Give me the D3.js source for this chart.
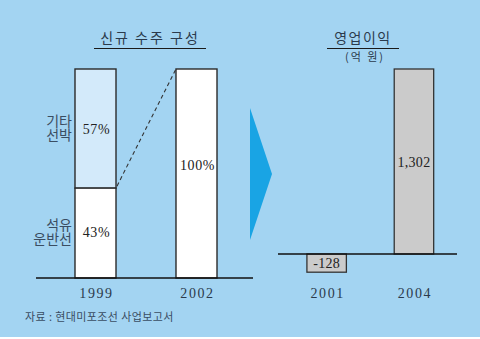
<!DOCTYPE html>
<html>
<head>
<meta charset="utf-8">
<script src="https://cdn.jsdelivr.net/npm/d3@7"></script>
<style>
html,body{margin:0;padding:0;background:#a3d4f2;}
svg{display:block;}
</style>
</head>
<body>
<svg id="chart" width="480" height="339"></svg>
<script>
// ---- data ----
const orderYears = ["1999", "2002"];
const tankerShare = [43, 100];      // 석유 운반선 (2002: 100%)
const otherShare = [57, 0];         // 기타 선박
const orderLabelsLower = ["43%", "100%"];
const orderLabelsUpper = ["57%", ""];
const segmentNames = [["석유", "운반선"], ["기타", "선박"]];

const profitYears = ["2001", "2004"];
const profitValues = [-128, 1302];
const profitLabels = ["-128", "1,302"];

const leftTitle = "신규 수주 구성";
const rightTitle = "영업이익";
const rightUnit = "(억 원)";
const sourceText = "자료 : 현대미포조선 사업보고서";

// ---- setup ----
const svg = d3.select("#chart");
svg.append("rect").attr("width", 480).attr("height", 337).attr("fill", "#a3d4f2");
svg.append("rect").attr("y", 337).attr("width", 480).attr("height", 2).attr("fill", "#ffffff");

const kfont = "'Noto Sans CJK KR', 'Noto Sans', sans-serif";
const nfont = "'Liberation Serif', serif";
const textCol = "#2b3a4c";
const strokeCol = "#2a2a2a";

// ---- left chart ----
const xL = d3.scaleBand().domain(orderYears).range([45, 247]).paddingInner(0.594).paddingOuter(0.297);
const yL = d3.scaleLinear().domain([0, 100]).range([278, 69]);

const left = svg.append("g");
// upper segment (기타 선박)
left.selectAll("rect.upper").data(orderYears).join("rect")
  .attr("class", "upper")
  .attr("x", d => xL(d))
  .attr("width", xL.bandwidth())
  .attr("y", (d, i) => yL(tankerShare[i] + otherShare[i]))
  .attr("height", (d, i) => yL(tankerShare[i]) - yL(tankerShare[i] + otherShare[i]))
  .attr("fill", "#d3eafa")
  .attr("stroke", strokeCol).attr("stroke-width", 1.4);
// lower segment
left.selectAll("rect.lower").data(orderYears).join("rect")
  .attr("class", "lower")
  .attr("x", d => xL(d))
  .attr("width", xL.bandwidth())
  .attr("y", (d, i) => yL(tankerShare[i]))
  .attr("height", (d, i) => yL(0) - yL(tankerShare[i]))
  .attr("fill", "#ffffff")
  .attr("stroke", strokeCol).attr("stroke-width", 1.4);

// dashed connector
left.append("line")
  .attr("x1", xL(orderYears[0]) + xL.bandwidth() + 1)
  .attr("y1", yL(tankerShare[0]) - 2)
  .attr("x2", xL(orderYears[1]))
  .attr("y2", yL(tankerShare[1]))
  .attr("stroke", "#333").attr("stroke-width", 1.1).attr("stroke-dasharray", "4,3");

// values
left.selectAll("text.lowerv").data(orderYears).join("text")
  .attr("x", d => xL(d) + xL.bandwidth() / 2 + 1)
  .attr("y", (d, i) => (yL(0) + yL(tankerShare[i])) / 2 + (i === 0 ? 4 : -4))
  .attr("text-anchor", "middle")
  .attr("font-family", nfont).attr("font-size", 14).attr("letter-spacing", 0.6)
  .attr("fill", "#222")
  .text((d, i) => orderLabelsLower[i]);
left.selectAll("text.upperv").data(orderYears).join("text")
  .attr("x", d => xL(d) + xL.bandwidth() / 2 + 1)
  .attr("y", (d, i) => (yL(tankerShare[i]) + yL(tankerShare[i] + otherShare[i])) / 2 + 5)
  .attr("text-anchor", "middle")
  .attr("font-family", nfont).attr("font-size", 14).attr("letter-spacing", 0.6)
  .attr("fill", "#222")
  .text((d, i) => orderLabelsUpper[i]);

// segment names (one text per line)
const segMid = [ (yL(0) + yL(tankerShare[0])) / 2, (yL(tankerShare[0]) + yL(100)) / 2 ];
segmentNames.forEach((lines, s) => {
  lines.forEach((ln, k) => {
    left.append("text")
      .attr("x", 72)
      .attr("y", segMid[s] + (k === 0 ? -3 : 11))
      .attr("text-anchor", "end")
      .attr("font-family", kfont).attr("font-size", 14)
      .attr("fill", "#3a4d62")
      .text(ln);
  });
});

// baseline
left.append("line").attr("x1", 36).attr("x2", 253).attr("y1", yL(0)).attr("y2", yL(0))
  .attr("stroke", "#111").attr("stroke-width", 1.3);

// axis labels
const axL = d3.axisBottom(xL).tickSize(0).tickPadding(10);
const gAxL = left.append("g").attr("transform", `translate(0,${yL(0)})`).call(axL);
gAxL.select(".domain").remove();
gAxL.selectAll("text").attr("font-family", nfont).attr("font-size", 14)
  .attr("letter-spacing", 1.6).attr("fill", textCol).attr("dx", 1);

// title
left.append("text").attr("x", 150).attr("y", 43).attr("text-anchor", "middle")
  .attr("font-family", kfont).attr("font-size", 14).attr("letter-spacing", 2)
  .attr("fill", textCol).text(leftTitle);
left.append("line").attr("x1", 94).attr("x2", 206).attr("y1", 48.5).attr("y2", 48.5)
  .attr("stroke", "#1a1a1a").attr("stroke-width", 1.2);

// ---- arrow ----
svg.append("path")
  .attr("d", d3.line()([[250, 108], [272, 174], [250, 240]]) + "Z")
  .attr("fill", "#19a4e4");

// ---- right chart ----
const xR = d3.scaleBand().domain(profitYears).range([283, 457.6]).paddingInner(0.548).paddingOuter(0.274);
const yR = d3.scaleLinear().domain([0, 1302]).range([254, 69]);

const right = svg.append("g");
right.selectAll("rect.bar").data(profitYears).join("rect")
  .attr("x", d => xR(d))
  .attr("width", xR.bandwidth())
  .attr("y", (d, i) => yR(Math.max(0, profitValues[i])))
  .attr("height", (d, i) => Math.abs(yR(profitValues[i]) - yR(0)))
  .attr("fill", "#cbcbcb")
  .attr("stroke", "#333").attr("stroke-width", 1.3);

right.selectAll("text.val").data(profitYears).join("text")
  .attr("x", d => xR(d) + xR.bandwidth() / 2)
  .attr("y", (d, i) => profitValues[i] < 0 ? yR(profitValues[i]) - 4 : yR(0) - 87)
  .attr("text-anchor", "middle")
  .attr("font-family", nfont).attr("font-size", 14).attr("letter-spacing", 0.3)
  .attr("fill", "#222")
  .text((d, i) => profitLabels[i]);

right.append("line").attr("x1", 278).attr("x2", 457).attr("y1", yR(0)).attr("y2", yR(0))
  .attr("stroke", "#111").attr("stroke-width", 1.3);

const axR = d3.axisBottom(xR).tickSize(0).tickPadding(34);
const gAxR = right.append("g").attr("transform", `translate(0,${yR(0)})`).call(axR);
gAxR.select(".domain").remove();
gAxR.selectAll("text").attr("font-family", nfont).attr("font-size", 14)
  .attr("letter-spacing", 1.6).attr("fill", textCol).attr("dx", 1);

right.append("text").attr("x", 363).attr("y", 43).attr("text-anchor", "middle")
  .attr("font-family", kfont).attr("font-size", 14).attr("letter-spacing", 1.5)
  .attr("fill", textCol).text(rightTitle);
right.append("line").attr("x1", 327).attr("x2", 399).attr("y1", 48.5).attr("y2", 48.5)
  .attr("stroke", "#1a1a1a").attr("stroke-width", 1.2);
right.append("text").attr("x", 365).attr("y", 61).attr("text-anchor", "middle")
  .attr("font-family", kfont).attr("font-size", 11).attr("letter-spacing", 2)
  .attr("fill", textCol).text(rightUnit);

// ---- source ----
svg.append("text").attr("x", 25).attr("y", 321)
  .attr("font-family", kfont).attr("font-size", 11).attr("letter-spacing", 0.4)
  .attr("fill", "#3a4d62").text(sourceText);
</script>
</body>
</html>
